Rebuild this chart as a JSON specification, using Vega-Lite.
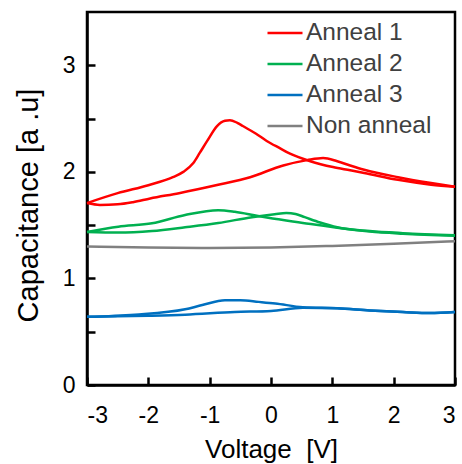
{
  "$schema": "https://vega.github.io/schema/vega-lite/v6.json",
  "width": 368,
  "height": 373,
  "autosize": {"type": "none"},
  "padding": {"left": 87, "top": 12, "right": 7, "bottom": 79},
  "background": "white",
  "config": {
    "font": "Liberation Sans",
    "view": {"stroke": "black", "strokeWidth": 2.5},
    "axis": {"grid": false, "domainColor": "black", "domainWidth": 2.5, "labelColor": "black", "titleColor": "black", "labelFont": "Liberation Sans", "titleFont": "Liberation Sans", "titleFontWeight": "normal"}
  },
  "data": {
    "values": [
      {"s": "Anneal 1", "b": "a", "v": -3, "c": 1.707},
      {"s": "Anneal 1", "b": "a", "v": -2.5, "c": 1.8},
      {"s": "Anneal 1", "b": "a", "v": -2.0, "c": 1.875},
      {"s": "Anneal 1", "b": "a", "v": -1.6, "c": 1.95},
      {"s": "Anneal 1", "b": "a", "v": -1.43, "c": 2.0},
      {"s": "Anneal 1", "b": "a", "v": -1.27, "c": 2.08},
      {"s": "Anneal 1", "b": "a", "v": -1.16, "c": 2.18},
      {"s": "Anneal 1", "b": "a", "v": -1.04, "c": 2.29},
      {"s": "Anneal 1", "b": "a", "v": -0.88, "c": 2.43},
      {"s": "Anneal 1", "b": "a", "v": -0.75, "c": 2.48},
      {"s": "Anneal 1", "b": "a", "v": -0.67, "c": 2.485},
      {"s": "Anneal 1", "b": "a", "v": -0.55, "c": 2.46},
      {"s": "Anneal 1", "b": "a", "v": -0.46, "c": 2.43},
      {"s": "Anneal 1", "b": "a", "v": -0.25, "c": 2.36},
      {"s": "Anneal 1", "b": "a", "v": -0.07, "c": 2.29},
      {"s": "Anneal 1", "b": "a", "v": 0.15, "c": 2.22},
      {"s": "Anneal 1", "b": "a", "v": 0.31, "c": 2.17},
      {"s": "Anneal 1", "b": "a", "v": 0.64, "c": 2.1},
      {"s": "Anneal 1", "b": "a", "v": 1.01, "c": 2.045},
      {"s": "Anneal 1", "b": "a", "v": 1.29, "c": 2.015},
      {"s": "Anneal 1", "b": "a", "v": 1.52, "c": 1.99},
      {"s": "Anneal 1", "b": "a", "v": 2.07, "c": 1.925},
      {"s": "Anneal 1", "b": "a", "v": 2.61, "c": 1.88},
      {"s": "Anneal 1", "b": "a", "v": 3.0, "c": 1.86},
      {"s": "Anneal 1", "b": "b", "v": -3, "c": 1.707},
      {"s": "Anneal 1", "b": "b", "v": -2.79, "c": 1.69},
      {"s": "Anneal 1", "b": "b", "v": -2.5, "c": 1.695},
      {"s": "Anneal 1", "b": "b", "v": -2.25, "c": 1.715},
      {"s": "Anneal 1", "b": "b", "v": -1.97, "c": 1.75},
      {"s": "Anneal 1", "b": "b", "v": -1.5, "c": 1.8},
      {"s": "Anneal 1", "b": "b", "v": -0.88, "c": 1.876},
      {"s": "Anneal 1", "b": "b", "v": -0.34, "c": 1.95},
      {"s": "Anneal 1", "b": "b", "v": 0.2, "c": 2.06},
      {"s": "Anneal 1", "b": "b", "v": 0.59, "c": 2.11},
      {"s": "Anneal 1", "b": "b", "v": 0.85, "c": 2.13},
      {"s": "Anneal 1", "b": "b", "v": 1.08, "c": 2.1},
      {"s": "Anneal 1", "b": "b", "v": 1.29, "c": 2.06},
      {"s": "Anneal 1", "b": "b", "v": 1.52, "c": 2.02},
      {"s": "Anneal 1", "b": "b", "v": 2.07, "c": 1.95},
      {"s": "Anneal 1", "b": "b", "v": 2.61, "c": 1.895},
      {"s": "Anneal 1", "b": "b", "v": 3.0, "c": 1.86},
      {"s": "Anneal 2", "b": "a", "v": -3, "c": 1.435},
      {"s": "Anneal 2", "b": "a", "v": -2.49, "c": 1.485},
      {"s": "Anneal 2", "b": "a", "v": -1.94, "c": 1.517},
      {"s": "Anneal 2", "b": "a", "v": -1.4, "c": 1.595},
      {"s": "Anneal 2", "b": "a", "v": -0.86, "c": 1.64},
      {"s": "Anneal 2", "b": "a", "v": -0.59, "c": 1.625},
      {"s": "Anneal 2", "b": "a", "v": -0.21, "c": 1.585},
      {"s": "Anneal 2", "b": "a", "v": 0.06, "c": 1.56},
      {"s": "Anneal 2", "b": "a", "v": 0.52, "c": 1.52},
      {"s": "Anneal 2", "b": "a", "v": 0.8, "c": 1.5},
      {"s": "Anneal 2", "b": "a", "v": 1.08, "c": 1.475},
      {"s": "Anneal 2", "b": "a", "v": 1.61, "c": 1.44},
      {"s": "Anneal 2", "b": "a", "v": 2.15, "c": 1.42},
      {"s": "Anneal 2", "b": "a", "v": 3.0, "c": 1.4},
      {"s": "Anneal 2", "b": "b", "v": -3, "c": 1.435},
      {"s": "Anneal 2", "b": "b", "v": -2.49, "c": 1.43},
      {"s": "Anneal 2", "b": "b", "v": -1.94, "c": 1.445},
      {"s": "Anneal 2", "b": "b", "v": -1.4, "c": 1.48},
      {"s": "Anneal 2", "b": "b", "v": -0.86, "c": 1.52},
      {"s": "Anneal 2", "b": "b", "v": -0.31, "c": 1.575},
      {"s": "Anneal 2", "b": "b", "v": 0.06, "c": 1.603},
      {"s": "Anneal 2", "b": "b", "v": 0.25, "c": 1.615},
      {"s": "Anneal 2", "b": "b", "v": 0.4, "c": 1.605},
      {"s": "Anneal 2", "b": "b", "v": 0.55, "c": 1.575},
      {"s": "Anneal 2", "b": "b", "v": 0.8, "c": 1.525},
      {"s": "Anneal 2", "b": "b", "v": 1.08, "c": 1.48},
      {"s": "Anneal 2", "b": "b", "v": 1.61, "c": 1.445},
      {"s": "Anneal 2", "b": "b", "v": 2.15, "c": 1.425},
      {"s": "Anneal 2", "b": "b", "v": 3.0, "c": 1.405},
      {"s": "Anneal 3", "b": "a", "v": -3, "c": 0.64},
      {"s": "Anneal 3", "b": "a", "v": -2.22, "c": 0.66},
      {"s": "Anneal 3", "b": "a", "v": -1.4, "c": 0.71},
      {"s": "Anneal 3", "b": "a", "v": -1.12, "c": 0.75},
      {"s": "Anneal 3", "b": "a", "v": -0.75, "c": 0.795},
      {"s": "Anneal 3", "b": "a", "v": -0.5, "c": 0.795},
      {"s": "Anneal 3", "b": "a", "v": -0.2, "c": 0.78},
      {"s": "Anneal 3", "b": "a", "v": 0.07, "c": 0.765},
      {"s": "Anneal 3", "b": "a", "v": 0.52, "c": 0.73},
      {"s": "Anneal 3", "b": "a", "v": 1.08, "c": 0.72},
      {"s": "Anneal 3", "b": "a", "v": 1.61, "c": 0.7},
      {"s": "Anneal 3", "b": "a", "v": 2.15, "c": 0.685},
      {"s": "Anneal 3", "b": "a", "v": 2.59, "c": 0.675},
      {"s": "Anneal 3", "b": "a", "v": 3.0, "c": 0.685},
      {"s": "Anneal 3", "b": "b", "v": -3, "c": 0.64},
      {"s": "Anneal 3", "b": "b", "v": -2.0, "c": 0.65},
      {"s": "Anneal 3", "b": "b", "v": -1.4, "c": 0.66},
      {"s": "Anneal 3", "b": "b", "v": -0.59, "c": 0.685},
      {"s": "Anneal 3", "b": "b", "v": 0.0, "c": 0.695},
      {"s": "Anneal 3", "b": "b", "v": 0.52, "c": 0.725},
      {"s": "Anneal 3", "b": "b", "v": 1.08, "c": 0.72},
      {"s": "Anneal 3", "b": "b", "v": 1.61, "c": 0.7},
      {"s": "Anneal 3", "b": "b", "v": 2.15, "c": 0.685},
      {"s": "Anneal 3", "b": "b", "v": 2.59, "c": 0.675},
      {"s": "Anneal 3", "b": "b", "v": 3.0, "c": 0.685},
      {"s": "Non anneal", "b": "a", "v": -3, "c": 1.3},
      {"s": "Non anneal", "b": "a", "v": -2, "c": 1.29},
      {"s": "Non anneal", "b": "a", "v": -1, "c": 1.285},
      {"s": "Non anneal", "b": "a", "v": 0, "c": 1.29},
      {"s": "Non anneal", "b": "a", "v": 1, "c": 1.305},
      {"s": "Non anneal", "b": "a", "v": 2, "c": 1.325},
      {"s": "Non anneal", "b": "a", "v": 3, "c": 1.35}
    ]
  },
  "mark": {"type": "line", "strokeWidth": 2.5, "interpolate": "monotone"},
  "encoding": {
    "x": {
      "field": "v", "type": "quantitative",
      "scale": {"domain": [-3, 3], "nice": false},
      "axis": {"title": "Voltage\u00a0\u00a0[V]", "values": [-3, -2, -1, 0, 1, 2, 3], "labelExpr": "(datum.value < 0 ? '-' : '') + abs(datum.value)", "tickColor": "black", "tickWidth": 2.5, "tickSize": -8, "labelPadding": 27, "labelFontSize": 23, "titleFontSize": 26, "titleY": 72, "titleBaseline": "alphabetic"}
    },
    "y": {
      "field": "c", "type": "quantitative",
      "scale": {"domain": [0, 3.5], "nice": false},
      "axis": {"title": "Capacitance [a .u]", "values": [0, 0.5, 1, 1.5, 2, 2.5, 3], "labelExpr": "datum.value % 1 == 0 ? '' + datum.value : ''", "tickColor": "black", "tickWidth": 2.5, "tickSize": -8, "labelPadding": 20, "labelFontSize": 23, "titleFontSize": 29, "titleX": -50, "titleY": 193, "titleBaseline": "alphabetic"}
    },
    "color": {
      "field": "s", "type": "nominal",
      "scale": {"domain": ["Anneal 1", "Anneal 2", "Anneal 3", "Non anneal"], "range": ["#FF0000", "#00B050", "#0070C0", "#808080"]},
      "legend": {"title": null, "orient": "none", "legendX": 179, "legendY": 2, "padding": 0, "symbolType": "stroke", "symbolSize": 1225, "symbolStrokeWidth": 2.5, "labelFontSize": 24.5, "labelColor": "#404040", "labelFont": "Liberation Sans", "labelOffset": 2, "rowPadding": -14}
    },
    "detail": {"field": "b"}
  }
}
